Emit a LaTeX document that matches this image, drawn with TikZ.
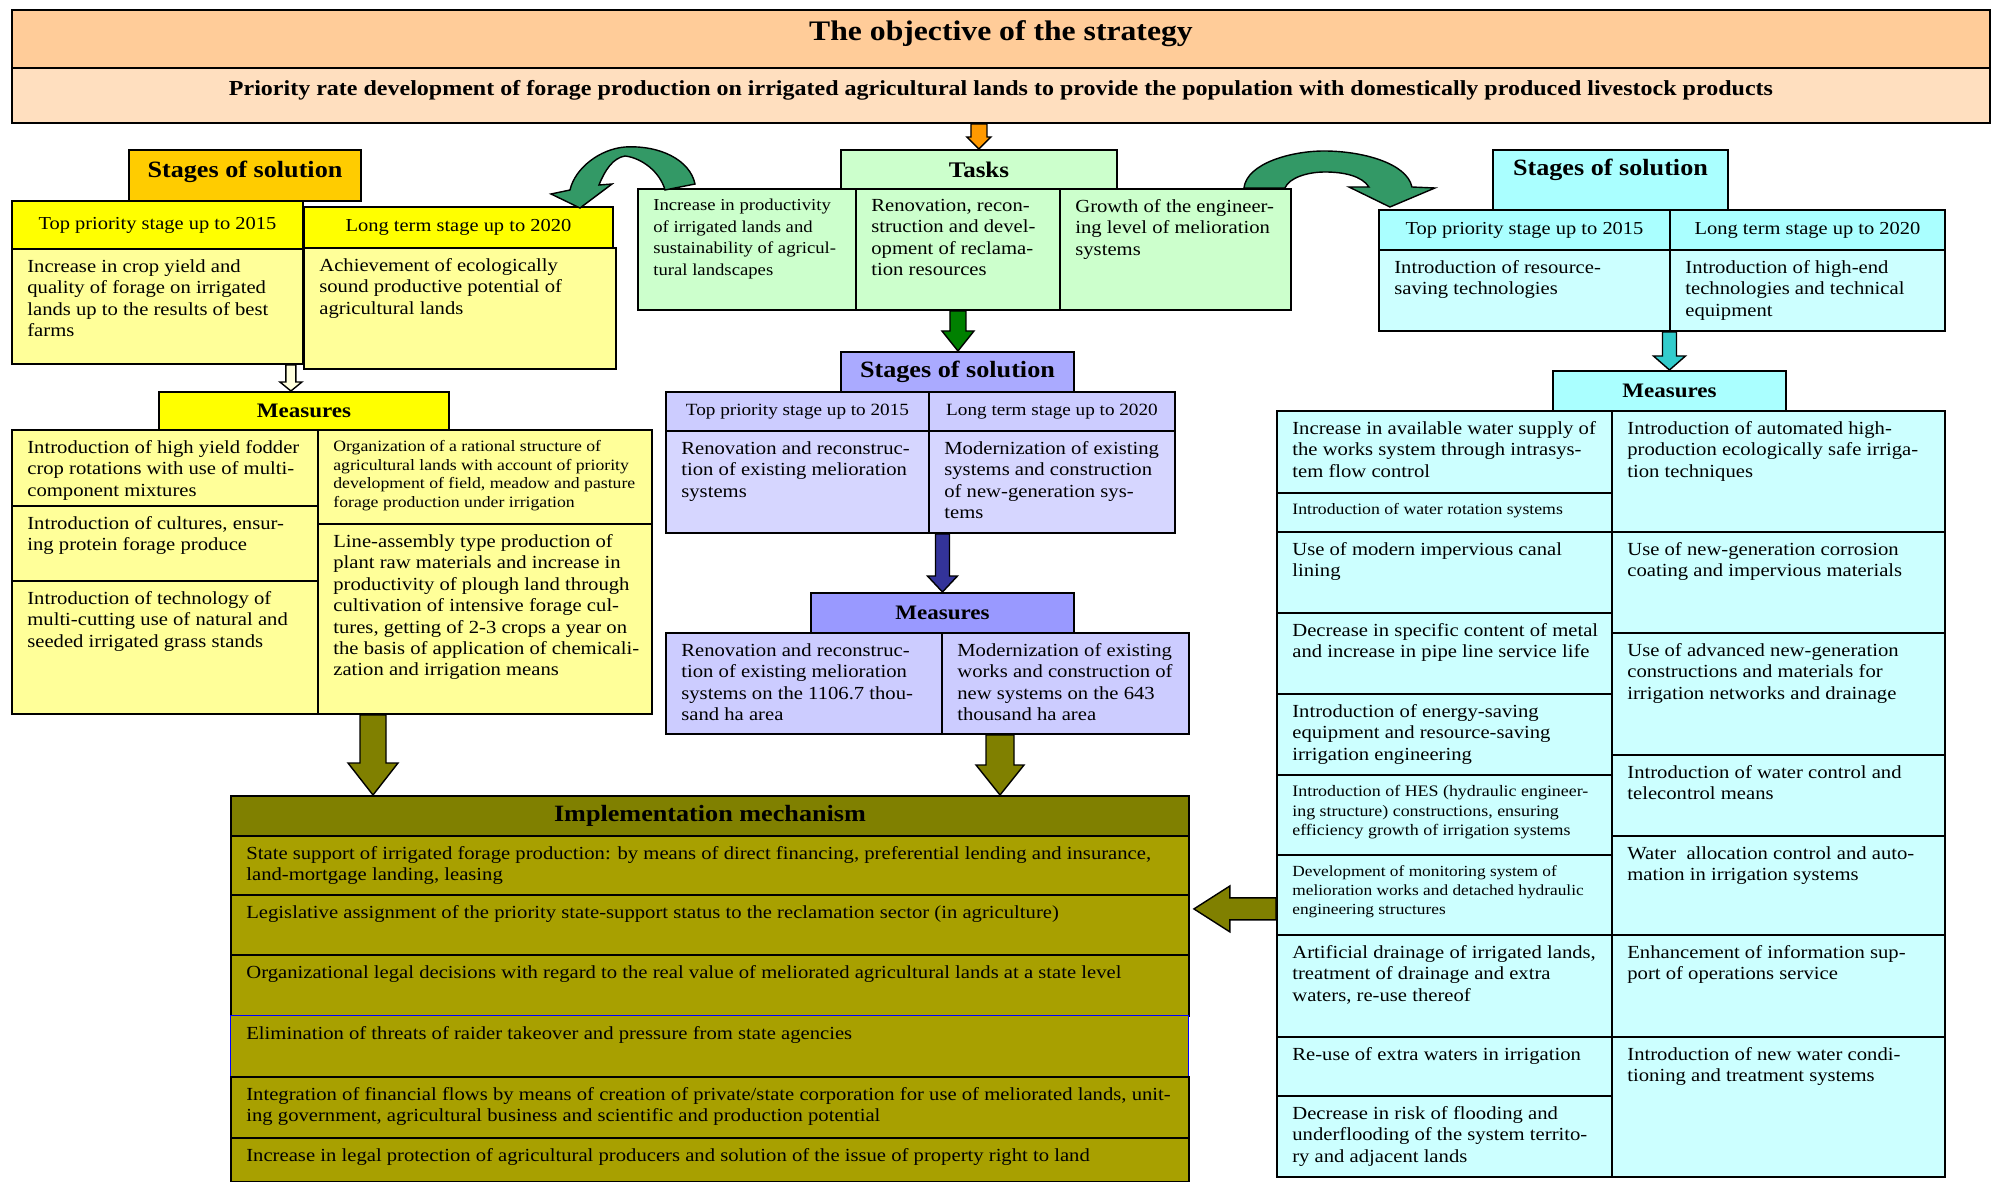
\documentclass[tikz,border=0pt]{standalone}
\usepackage{fontspec}
\setmainfont{Liberation Serif}[FakeStretch=1.12]
\usetikzlibrary{positioning, calc}

\definecolor{peach}{HTML}{FFCC99}
\definecolor{lightpeach}{HTML}{FFDFBF}
\definecolor{amber}{HTML}{FFCC00}
\definecolor{lemon}{HTML}{FFFF00}
\definecolor{paleyellow}{HTML}{FFFF99}
\definecolor{hollowyellow}{HTML}{FFFFDD}
\definecolor{mint}{HTML}{CCFFCC}
\definecolor{leaf}{HTML}{008000}
\definecolor{swoop}{HTML}{339966}
\definecolor{lavhead}{HTML}{AAAAFF}
\definecolor{lavlabel}{HTML}{CCCCFF}
\definecolor{lavcell}{HTML}{D6D6FF}
\definecolor{lavmeas}{HTML}{9999FF}
\definecolor{indigo}{HTML}{333399}
\definecolor{oliv}{HTML}{808000}
\definecolor{olivrow}{HTML}{A8A000}
\definecolor{aqua}{HTML}{AAFFFF}
\definecolor{paleaqua}{HTML}{CCFFFF}
\definecolor{tealarrow}{HTML}{33CCCC}
\definecolor{orangearrow}{HTML}{FF9900}

% box with text set at its top left corner
\newcommand{\gridcell}[7][bodytext]{%
  \node[cellbox={#5}{#6}, fill=#3] (#2) at (#4) {};
  \node[celltext, #1] (#2_txt) at ([shift={(16,11)}]#2.north west) {#7};}

% block arrow pointing down: fill, from, to, shaft half width, head half width, head length
\newcommand{\vblock}[6]{%
  \filldraw[blockarrow, fill=#1] let \p1=#2, \p2=#3 in
    (\x1-#4*0.02cm,\y1) -- (\x1+#4*0.02cm,\y1)
    -- (\x1+#4*0.02cm,\y2+#6*0.02cm) -- (\x1+#5*0.02cm,\y2+#6*0.02cm)
    -- (\x1,\y2) -- (\x1-#5*0.02cm,\y2+#6*0.02cm)
    -- (\x1-#4*0.02cm,\y2+#6*0.02cm) -- cycle;}

% block arrow pointing left
\newcommand{\hblock}[6]{%
  \filldraw[blockarrow, fill=#1] let \p1=#2, \p2=#3 in
    (\x1,\y1+#4*0.02cm) -- (\x2+#6*0.02cm,\y1+#4*0.02cm)
    -- (\x2+#6*0.02cm,\y1+#5*0.02cm) -- (\x2,\y1)
    -- (\x2+#6*0.02cm,\y1-#5*0.02cm) -- (\x2+#6*0.02cm,\y1-#4*0.02cm)
    -- (\x1,\y1-#4*0.02cm) -- cycle;}

\begin{document}
\begin{tikzpicture}[
        % styles
        x=0.02cm, y=-0.02cm,
        cellbox/.style 2 args={draw, line width=1.1pt, anchor=north west, inner sep=0pt,
            minimum width=#1*0.02cm, minimum height=#2*0.02cm},
        labbox/.style 2 args={cellbox={#1}{#2}, align=center},
        celltext/.style={anchor=north west, align=left, inner sep=0pt},
        bodytext/.style={font=\fontsize{10.5}{12.2}\selectfont},
        tasktext/.style={font=\fontsize{9.5}{12.2}\selectfont},
        smalltext/.style={font=\fontsize{9.1}{11.2}\selectfont},
        tinytext/.style={font=\fontsize{9}{10.6}\selectfont},
        monitext/.style={font=\fontsize{8.8}{10.8}\selectfont},
        mechtext/.style={font=\fontsize{10.5}{12}\selectfont},
        labtext/.style={font=\fontsize{10.4}{12}\selectfont},
        centlab/.style={font=\fontsize{9.75}{12}\selectfont},
        headtext/.style={font=\bfseries\fontsize{13.3}{15}\selectfont},
        meastext/.style={font=\bfseries\fontsize{11.7}{14}\selectfont},
        blockarrow/.style={draw=black, line width=0.8pt},
        swoosh/.style={draw=black, line width=0.8pt, fill=swoop}
    ]

    \useasboundingbox (0,0) rectangle (1995,1182);
    \fill[white] (0,0) rectangle (1995,1182);

    % 1. objective
    \node[labbox={1978}{58}, fill=peach, font=\bfseries\fontsize{16.1}{19}\selectfont, text depth=10pt] (title) at (11,9) {The objective of the strategy};
    \node[labbox={1978}{55}, fill=lightpeach, font=\bfseries\fontsize{12.2}{14}\selectfont, text depth=9pt] (goal) at (11,67) {Priority rate development of forage production on irrigated agricultural lands to provide the population with domestically produced livestock products};

    % 2. tasks
    \node[labbox={276}{39}, fill=mint, font=\bfseries\fontsize{12.7}{15}\selectfont] (tasks_hd) at (840,149) {Tasks};
    \gridcell[tasktext]{task1}{mint}{637,188}{218}{121}{Increase in productivity\\of irrigated lands and\\sustainability of agricul-\\tural landscapes}
    \gridcell{task2}{mint}{855,188}{204}{121}{Renovation, recon-\\struction and devel-\\opment of reclama-\\tion resources}
    \gridcell{task3}{mint}{1059,188}{231}{121}{Growth of the engineer-\\ing level of melioration\\systems}

    % 3. left stages (forage)
    \node[labbox={232}{51}, fill=amber, headtext, text depth=7pt] (ls_hd) at (128,149) {Stages of solution};
    \node[labbox={291}{48}, fill=lemon, labtext] (ls_lab1) at (11,200) {Top priority stage up to 2015};
    \node[labbox={309}{41}, fill=lemon, labtext] (ls_lab2) at (303,206) {Long term stage up to 2020};
    \gridcell{ls_cell1}{paleyellow}{11,248}{291}{115}{Increase in crop yield and\\quality of forage on irrigated\\lands up to the results of best\\farms}
    \gridcell{ls_cell2}{paleyellow}{303,247}{312}{121}{Achievement of ecologically\\sound productive potential of\\agricultural lands}

    \node[labbox={290}{38}, fill=lemon, meastext] (lm_hd) at (158,391) {Measures};
    \gridcell{lm1}{paleyellow}{11,429}{306}{76}{Introduction of high yield fodder\\crop rotations with use of multi-\\component mixtures}
    \gridcell{lm2}{paleyellow}{11,505}{306}{75}{Introduction of cultures, ensur-\\ing protein forage produce}
    \gridcell{lm3}{paleyellow}{11,580}{306}{133}{Introduction of technology of\\multi-cutting use of natural and\\seeded irrigated grass stands}
    \gridcell[tinytext]{lm4}{paleyellow}{317,429}{334}{94}{Organization of a rational structure of\\agricultural lands with account of priority\\development of field, meadow and pasture\\forage production under irrigation}
    \gridcell{lm5}{paleyellow}{317,523}{334}{190}{Line-assembly type production of\\plant raw materials and increase in\\productivity of plough land through\\cultivation of intensive forage cul-\\tures, getting of 2-3 crops a year on\\the basis of application of chemicali-\\zation and irrigation means}

    % 4. centre stages (reclamation)
    \node[labbox={233}{40}, fill=lavhead, headtext] (cs_hd) at (840,351) {Stages of solution};
    \node[labbox={263}{39}, fill=lavlabel, centlab] (cs_lab1) at (665,391) {Top priority stage up to 2015};
    \node[labbox={246}{39}, fill=lavlabel, centlab] (cs_lab2) at (928,391) {Long term stage up to 2020};
    \gridcell{cs_cell1}{lavcell}{665,430}{263}{102}{Renovation and reconstruc-\\tion of existing melioration\\systems}
    \gridcell{cs_cell2}{lavcell}{928,430}{246}{102}{Modernization of existing\\systems and construction\\of new-generation sys-\\tems}

    \node[labbox={263}{40}, fill=lavmeas, meastext] (cm_hd) at (810,592) {Measures};
    \gridcell{cm1}{lavlabel}{665,632}{276}{101}{Renovation and reconstruc-\\tion of existing melioration\\systems on the 1106.7 thou-\\sand ha area}
    \gridcell{cm2}{lavlabel}{941,632}{247}{101}{Modernization of existing\\works and construction of\\new systems on the 643\\thousand ha area}

    % 5. right stages (engineering)
    \node[labbox={235}{60}, fill=aqua, headtext, text depth=14pt] (rs_hd) at (1492,149) {Stages of solution};
    \node[labbox={291}{40}, fill=aqua, labtext] (rs_lab1) at (1378,209) {Top priority stage up to 2015};
    \node[labbox={275}{40}, fill=aqua, labtext] (rs_lab2) at (1669,209) {Long term stage up to 2020};
    \gridcell{rs_cell1}{paleaqua}{1378,249}{291}{81}{Introduction of resource-\\saving technologies}
    \gridcell{rs_cell2}{paleaqua}{1669,249}{275}{81}{Introduction of high-end\\technologies and technical\\equipment}

    \node[labbox={233}{40}, fill=aqua, meastext] (rm_hd) at (1552,370) {Measures};
    % left column
    \gridcell{ra1}{paleaqua}{1276,410}{335}{82}{Increase in available water supply of\\the works system through intrasys-\\tem flow control}
    \gridcell[tinytext]{ra2}{paleaqua}{1276,492}{335}{39}{Introduction of water rotation systems}
    \gridcell{ra3}{paleaqua}{1276,531}{335}{81}{Use of modern impervious canal\\lining}
    \gridcell{ra4}{paleaqua}{1276,612}{335}{81}{Decrease in specific content of metal\\and increase in pipe line service life}
    \gridcell{ra5}{paleaqua}{1276,693}{335}{81}{Introduction of energy-saving\\equipment and resource-saving\\irrigation engineering}
    \gridcell[smalltext]{ra6}{paleaqua}{1276,774}{335}{80}{Introduction of HES (hydraulic engineer-\\ing structure) constructions, ensuring\\efficiency growth of irrigation systems}
    \gridcell[monitext]{ra7}{paleaqua}{1276,854}{335}{80}{Development of monitoring system of\\melioration works and detached hydraulic\\engineering structures}
    \gridcell{ra8}{paleaqua}{1276,934}{335}{102}{Artificial drainage of irrigated lands,\\treatment of drainage and extra\\waters, re-use thereof}
    \gridcell{ra9}{paleaqua}{1276,1036}{335}{59}{Re-use of extra waters in irrigation}
    \gridcell{ra10}{paleaqua}{1276,1095}{335}{81}{Decrease in risk of flooding and\\underflooding of the system territo-\\ry and adjacent lands}
    % right column
    \gridcell{rb1}{paleaqua}{1611,410}{333}{121}{Introduction of automated high-\\production ecologically safe irriga-\\tion techniques}
    \gridcell{rb2}{paleaqua}{1611,531}{333}{101}{Use of new-generation corrosion\\coating and impervious materials}
    \gridcell{rb3}{paleaqua}{1611,632}{333}{122}{Use of advanced new-generation\\constructions and materials for\\irrigation networks and drainage}
    \gridcell{rb4}{paleaqua}{1611,754}{333}{81}{Introduction of water control and\\telecontrol means}
    \gridcell{rb5}{paleaqua}{1611,835}{333}{99}{Water~ allocation control and auto-\\mation in irrigation systems}
    \gridcell{rb6}{paleaqua}{1611,934}{333}{102}{Enhancement of information sup-\\port of operations service}
    \gridcell{rb7}{paleaqua}{1611,1036}{333}{140}{Introduction of new water condi-\\tioning and treatment systems}

    % 6. implementation mechanism
    \node[labbox={958}{40}, fill=oliv, font=\bfseries\fontsize{13.3}{17}\selectfont] (mech_hd) at (230,795) {Implementation mechanism};
    \gridcell[mechtext]{mr1}{olivrow}{230,835}{958}{59}{State support of irrigated forage production: by means of direct financing, preferential lending and insurance,\\land-mortgage landing, leasing}
    \gridcell[mechtext]{mr2}{olivrow}{230,894}{958}{60}{Legislative assignment of the priority state-support status to the reclamation sector (in agriculture)}
    \gridcell[mechtext]{mr3}{olivrow}{230,954}{958}{61}{Organizational legal decisions with regard to the real value of meliorated agricultural lands at a state level}
    \gridcell[mechtext]{mr4}{olivrow, draw=blue, line width=0.7pt}{230,1015}{958}{61}{Elimination of threats of raider takeover and pressure from state agencies}
    \gridcell[mechtext]{mr5}{olivrow}{230,1076}{958}{61}{Integration of financial flows by means of creation of private/state corporation for use of meliorated lands, unit-\\ing government, agricultural business and scientific and production potential}
    \gridcell[mechtext]{mr6}{olivrow}{230,1137}{958}{44}{Increase in legal protection of agricultural producers and solution of the issue of property right to land}

    % 7. block arrows
    \vblock{orangearrow}{(tasks_hd.north |- goal.south)}{(tasks_hd.north)}{8}{12}{12}
    \vblock{leaf}{(task2.south)}{(cs_hd.north)}{8}{16}{20}
    \vblock{indigo}{(cm_hd.north |- cs_cell1.south)}{(cm_hd.north)}{7}{15}{16}
    \vblock{tealarrow}{(rm_hd.north |- rs_cell1.south)}{(rm_hd.north)}{7}{16}{14}
    \vblock{hollowyellow}{($(ls_cell1.south east)+(-13,0)$)}{(lm_hd.north)}{5}{11}{9}
    \vblock{oliv}{($(lm5.south west)+(56,0)$)}{(mech_hd.north)}{13}{25}{32}
    \vblock{oliv}{($(cm2.south west)+(59,0)$)}{(mech_hd.north)}{14}{24}{30}
    \hblock{oliv}{($(ra7.south west)+(0,-27)$)}{($(mr2.east)+(4,0)$)}{11}{23}{36}

    % 8. curved arrows from the tasks to the side stages
    \begin{scope}[shift={(task1.north west)}]
        \filldraw[swoosh] (58,-4) .. controls (53,-28) and (23,-43) .. (-12,-41)
            .. controls (-37,-39) and (-62,-20) .. (-67,2) -- (-86,6) -- (-57,20) -- (-25,-4) -- (-38,-3)
            .. controls (-32,-18) and (-24,-30) .. (-12,-32)
            .. controls (5,-30) and (23,-16) .. (28,2) -- cycle;
    \end{scope}
    \begin{scope}[shift={(task3.north east)}]
        \filldraw[swoosh] (-48,0) .. controls (-45,-25) and (0,-37) .. (32,-37)
            .. controls (70,-37) and (115,-25) .. (120,-1) -- (143,0) -- (98,19) -- (57,-1) -- (77,-1)
            .. controls (70,-12) and (52,-16) .. (33,-16)
            .. controls (15,-16) and (-3,-10) .. (-7,0) -- cycle;
    \end{scope}

\end{tikzpicture}
\end{document}
